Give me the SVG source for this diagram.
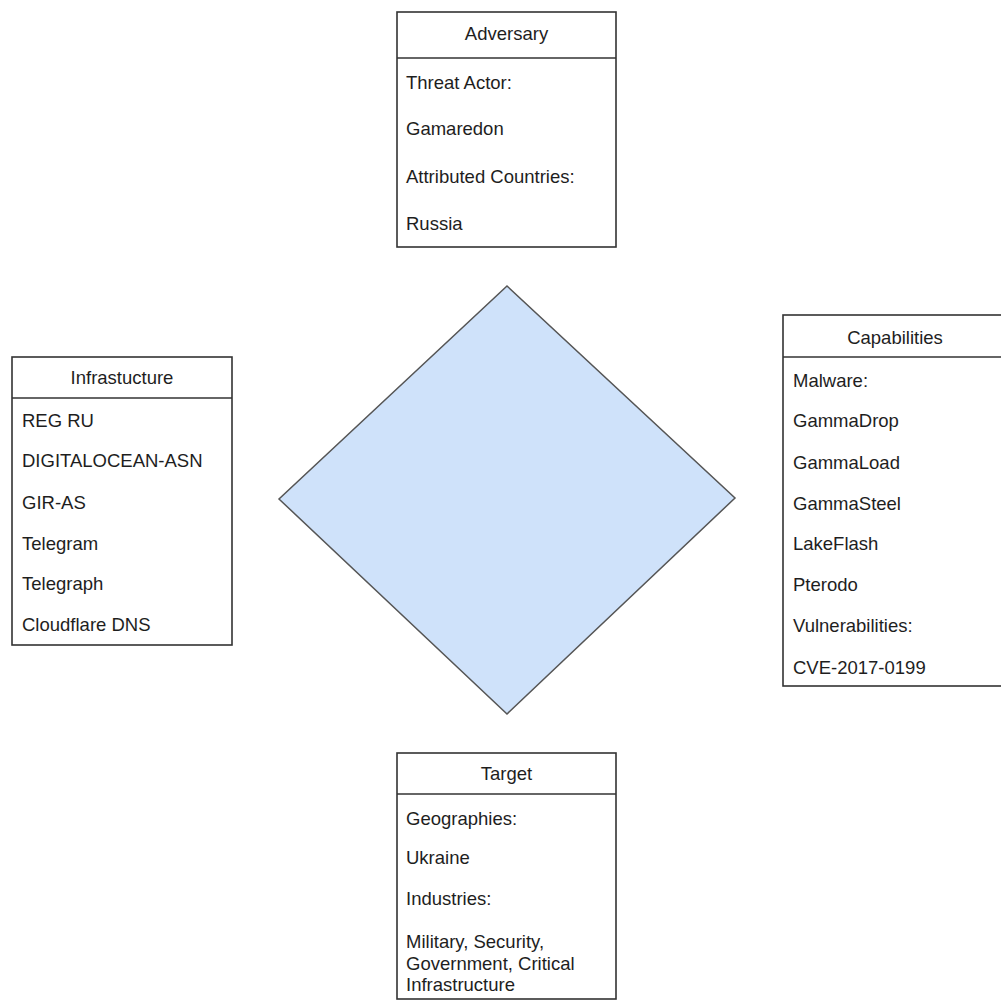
<svg xmlns="http://www.w3.org/2000/svg" width="1001" height="1003" viewBox="0 0 1001 1003">
  <style>
    .box { fill: #ffffff; stroke: #333333; stroke-width: 1.6; }
    .sep { stroke: #333333; stroke-width: 1.6; }
    .t { font-family: "Liberation Sans", Arial, Helvetica, sans-serif; font-size: 18.5px; fill: #1e1e1e; }
    .h { text-anchor: middle; }
    .diamond { fill: #cfe2fa; stroke: #555555; stroke-width: 1.5; }
  </style>
  <rect x="0" y="0" width="1001" height="1003" fill="#ffffff"/>

  <g id="connectors"></g>

  <g id="diamond">
    <polygon class="diamond" points="507,286 735,498 507,714 279,499"/>
  </g>

  <g id="adversary">
    <rect class="box" x="397" y="12" width="219" height="235"/>
    <line class="sep" x1="397" y1="58" x2="616" y2="58"/>
    <text class="t h" x="506.5" y="40">Adversary</text>
    <text class="t" x="406" y="88.5">Threat Actor:</text>
    <text class="t" x="406" y="135">Gamaredon</text>
    <text class="t" x="406" y="182.5">Attributed Countries:</text>
    <text class="t" x="406" y="229.5">Russia</text>
  </g>

  <g id="infrastructure">
    <rect class="box" x="12" y="357" width="220" height="288"/>
    <line class="sep" x1="12" y1="398" x2="232" y2="398"/>
    <text class="t h" x="122" y="384">Infrastucture</text>
    <text class="t" x="22" y="426.5">REG RU</text>
    <text class="t" x="22" y="467">DIGITALOCEAN-ASN</text>
    <text class="t" x="22" y="508.5">GIR-AS</text>
    <text class="t" x="22" y="549.5">Telegram</text>
    <text class="t" x="22" y="590">Telegraph</text>
    <text class="t" x="22" y="631">Cloudflare DNS</text>
  </g>

  <g id="capabilities">
    <rect class="box" x="783" y="315" width="224" height="371"/>
    <line class="sep" x1="783" y1="357" x2="1007" y2="357"/>
    <text class="t h" x="895" y="343.5">Capabilities</text>
    <text class="t" x="793" y="386.5">Malware:</text>
    <text class="t" x="793" y="427">GammaDrop</text>
    <text class="t" x="793" y="468.5">GammaLoad</text>
    <text class="t" x="793" y="509.5">GammaSteel</text>
    <text class="t" x="793" y="550">LakeFlash</text>
    <text class="t" x="793" y="591">Pterodo</text>
    <text class="t" x="793" y="632">Vulnerabilities:</text>
    <text class="t" x="793" y="673.5">CVE-2017-0199</text>
  </g>

  <g id="target">
    <rect class="box" x="397" y="753" width="219" height="246"/>
    <line class="sep" x1="397" y1="794" x2="616" y2="794"/>
    <text class="t h" x="506.5" y="780">Target</text>
    <text class="t" x="406" y="824.5">Geographies:</text>
    <text class="t" x="406" y="863.5">Ukraine</text>
    <text class="t" x="406" y="904.5">Industries:</text>
    <text class="t" x="406" y="948">Military, Security,</text>
    <text class="t" x="406" y="969.5">Government, Critical</text>
    <text class="t" x="406" y="991">Infrastructure</text>
  </g>
</svg>
